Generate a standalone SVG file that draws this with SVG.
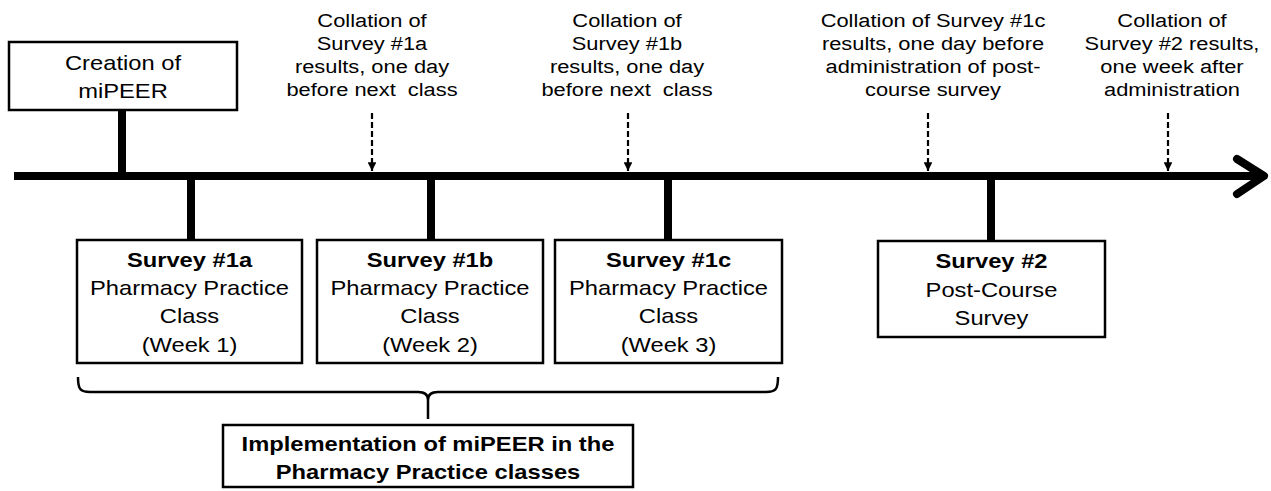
<svg xmlns="http://www.w3.org/2000/svg" width="1271" height="491" viewBox="0 0 1271 491">
<style>
.box{fill:#fff;stroke:#000;stroke-width:2.5}
.t{font-family:"Liberation Sans",Arial,sans-serif;font-size:21px;text-anchor:middle;fill:#000}
.b{font-weight:bold}
.top{font-family:"Liberation Sans",Arial,sans-serif;font-size:19px;text-anchor:middle;fill:#000}
.stem{stroke:#000;stroke-width:8;fill:none}
.dash{stroke:#000;stroke-width:2.2;stroke-dasharray:6 3;fill:none}
</style>
<defs>
<marker id="ah" viewBox="0 0 10 10" refX="10" refY="5" markerWidth="4" markerHeight="4" orient="auto" markerUnits="strokeWidth">
<path d="M0,0 L10,5 L0,10 z" fill="#000"/>
</marker>
</defs>
<g id="connectors">
<line class="stem" x1="14" y1="176" x2="1262" y2="176"/>
<polyline points="1237,159 1264,176 1237,194" fill="none" stroke="#000" stroke-width="8" stroke-linecap="round" stroke-linejoin="round"/>
<line class="stem" x1="122" y1="110" x2="122" y2="176"/>
<line class="stem" x1="191" y1="176" x2="191" y2="240"/>
<line class="stem" x1="431" y1="176" x2="431" y2="240"/>
<line class="stem" x1="668" y1="176" x2="668" y2="240"/>
<line class="stem" x1="991" y1="176" x2="991" y2="241"/>
<line class="dash" x1="372" y1="113" x2="372" y2="171" marker-end="url(#ah)"/>
<line class="dash" x1="628" y1="113" x2="628" y2="171" marker-end="url(#ah)"/>
<line class="dash" x1="928" y1="113" x2="928" y2="171" marker-end="url(#ah)"/>
<line class="dash" x1="1168" y1="113" x2="1168" y2="171" marker-end="url(#ah)"/>
<path d="M78,377 C78,389 80,392 90,392 L418,392 Q428,392 428,400 Q428,392 438,392 L766,392 C776,392 778,389 778,377 M428,398 L428,419" fill="none" stroke="#000" stroke-width="2.5"/>
</g>
<g id="creation">
<rect class="box" x="9" y="42" width="228" height="68"/>
<g transform="translate(123 0) scale(1.13 1)"><text class="t" x="0" y="70">Creation of</text><text class="t" x="0" y="98">miPEER</text></g>
</g>
<g id="collation1a" transform="translate(372 0) scale(1.15 1)">
<text class="top" x="0" y="27">Collation of</text><text class="top" x="0" y="50">Survey #1a</text><text class="top" x="0" y="73">results, one day</text><text class="top" x="0" y="96" xml:space="preserve">before next  class</text>
</g>
<g id="collation1b" transform="translate(627 0) scale(1.15 1)">
<text class="top" x="0" y="27">Collation of</text><text class="top" x="0" y="50">Survey #1b</text><text class="top" x="0" y="73">results, one day</text><text class="top" x="0" y="96" xml:space="preserve">before next  class</text>
</g>
<g id="collation1c" transform="translate(933 0) scale(1.15 1)">
<text class="top" x="0" y="27">Collation of Survey #1c</text><text class="top" x="0" y="50">results, one day before</text><text class="top" x="0" y="73">administration of post-</text><text class="top" x="0" y="96">course survey</text>
</g>
<g id="collation2" transform="translate(1172 0) scale(1.15 1)">
<text class="top" x="0" y="27">Collation of</text><text class="top" x="0" y="50">Survey #2 results,</text><text class="top" x="0" y="73">one week after</text><text class="top" x="0" y="96">administration</text>
</g>
<g id="survey1a">
<rect class="box" x="77" y="240" width="225" height="123"/>
<g transform="translate(189.5 0) scale(1.13 1)"><text class="t b" x="0" y="267">Survey #1a</text><text class="t" x="0" y="295">Pharmacy Practice</text><text class="t" x="0" y="323">Class</text><text class="t" x="0" y="352">(Week 1)</text></g>
</g>
<g id="survey1b">
<rect class="box" x="317" y="240" width="226" height="123"/>
<g transform="translate(430 0) scale(1.13 1)"><text class="t b" x="0" y="267">Survey #1b</text><text class="t" x="0" y="295">Pharmacy Practice</text><text class="t" x="0" y="323">Class</text><text class="t" x="0" y="352">(Week 2)</text></g>
</g>
<g id="survey1c">
<rect class="box" x="555" y="240" width="227" height="123"/>
<g transform="translate(668.5 0) scale(1.13 1)"><text class="t b" x="0" y="267">Survey #1c</text><text class="t" x="0" y="295">Pharmacy Practice</text><text class="t" x="0" y="323">Class</text><text class="t" x="0" y="352">(Week 3)</text></g>
</g>
<g id="survey2">
<rect class="box" x="878" y="241" width="227" height="96"/>
<g transform="translate(991.5 0) scale(1.13 1)"><text class="t b" x="0" y="268">Survey #2</text><text class="t" x="0" y="297">Post-Course</text><text class="t" x="0" y="325">Survey</text></g>
</g>
<g id="implementation">
<rect class="box" x="223" y="425" width="410" height="62"/>
<g transform="translate(428 0) scale(1.13 1)"><text class="t b" x="0" y="451">Implementation of miPEER in the</text><text class="t b" x="0" y="479">Pharmacy Practice classes</text></g>
</g>
</svg>
